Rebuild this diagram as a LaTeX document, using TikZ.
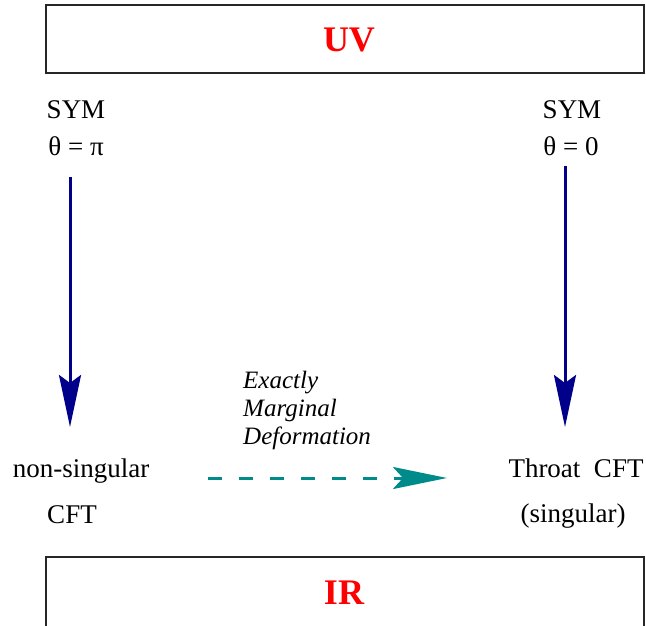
\documentclass[tikz,border=0pt]{standalone}
\usepackage{fontspec}
\setmainfont{Liberation Serif}
\usepackage{xcolor}
\definecolor{CNavy}{HTML}{00008B}
\definecolor{CTeal}{HTML}{008B8B}
\definecolor{CRed}{HTML}{FF0000}
\usetikzlibrary{arrows.meta}
\tikzstyle{scaleBox}=[rectangle, draw=black!85, line width=1.3pt, inner sep=0pt]
\tikzstyle{scaleLabel}=[text=CRed, font=\fontsize{36}{36}\selectfont\bfseries, anchor=base, inner sep=0pt]
\tikzstyle{txt}=[font=\fontsize{27}{36}\selectfont, anchor=base, inner sep=0pt]
\tikzstyle{itxt}=[font=\fontsize{25}{28}\selectfont\itshape, anchor=base west, inner sep=0pt]
\tikzstyle{flowArr}=[-{Stealth[length=52pt, width=22pt, inset=8pt]}, line width=3pt, draw=CNavy]
\tikzstyle{defArr}=[-{Stealth[length=54pt, width=22pt, inset=10pt]}, line width=3pt, draw=CTeal,
  dash pattern=on 14pt off 17pt]

\begin{document}
\begin{tikzpicture}[x=1pt, y=-1pt]
\useasboundingbox (0,0) rectangle (646,626);
\clip (0,0) rectangle (646,626);
% top and bottom of the flow
\node[scaleBox, minimum width=598pt, minimum height=68pt] (uvBox) at (345,39) {};
\node[scaleLabel] (uv) at (349,52) {UV};
\node[scaleBox, minimum width=598pt, minimum height=100pt] (irBox) at (345,607) {};
\node[scaleLabel] (ir) at (344,604) {IR};
% starting points
\node[txt] (symL) at (76,119) {SYM};
\node[txt] (thL) at (76,155) {θ = π};
\node[txt] (symR) at (572,119) {SYM};
\node[txt] (thR) at (571,155) {θ = 0};
% end points
\node[txt] (nsL) at (81,477) {non-singular};
\node[txt] (cftL) at (72,523) {CFT};
\node[txt] (thrR) at (576,477) {Throat\ \ CFT};
\node[txt] (sgR) at (573,522) {(singular)};
% deformation label
\node[itxt] (ex) at (243,388) {Exactly};
\node[itxt] (mg) at (243,416) {Marginal};
\node[itxt] (df) at (243,444) {Deformation};
% arrow ends
\coordinate (fL0) at (70,177);
\coordinate (fL1) at (70,427);
\coordinate (fR0) at (565,166);
\coordinate (fR1) at (565,427);
\coordinate (dA) at (208,478);
\coordinate (dB) at (447,478);
\draw[flowArr] (fL0) -- (fL1);
\draw[flowArr] (fR0) -- (fR1);
\draw[defArr] (dA) -- (dB);
\end{tikzpicture}
\end{document}
